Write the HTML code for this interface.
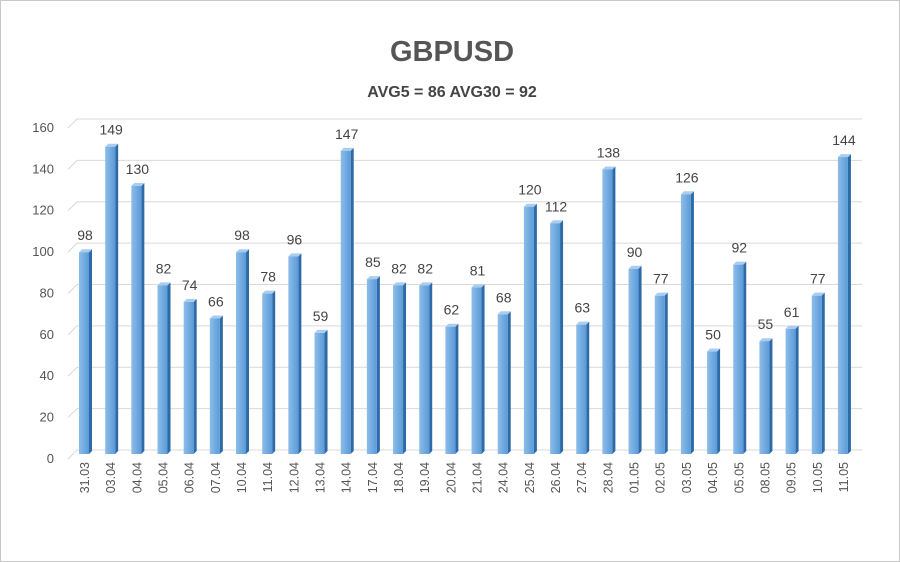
<!DOCTYPE html>
<html><head><style>body{margin:0;background:#fff}svg{display:block}</style></head><body>
<svg width="900" height="562" xmlns="http://www.w3.org/2000/svg" font-family="Liberation Sans, sans-serif">
<defs><linearGradient id="g" x1="0" x2="1"><stop offset="0" stop-color="#8dbde9"/><stop offset="1" stop-color="#5a9ad8"/></linearGradient></defs>
<rect x="0.5" y="0.5" width="899" height="561" fill="#fff" stroke="#c8c8c8"/>
<text x="452" y="61" text-anchor="middle" font-size="29" font-weight="bold" fill="#555">GBPUSD</text>
<text x="452" y="97" text-anchor="middle" font-size="16" font-weight="bold" fill="#444">AVG5 = 86 AVG30 = 92</text>
<g id="c"></g>
</svg>
<script>
const d=[["31.03",98],["03.04",149],["04.04",130],["05.04",82],["06.04",74],["07.04",66],["10.04",98],["11.04",78],["12.04",96],["13.04",59],["14.04",147],["17.04",85],["18.04",82],["19.04",82],["20.04",62],["21.04",81],["24.04",68],["25.04",120],["26.04",112],["27.04",63],["28.04",138],["01.05",90],["02.05",77],["03.05",126],["04.05",50],["05.05",92],["08.05",55],["09.05",61],["10.05",77],["11.05",144]];
let s="";
for(let v=0;v<=160;v+=20){const y=450-v*2.069;
s+=`<polyline points="68,${y+9} 77,${y} 862,${y}" fill="none" stroke="#d9d9d9"/>`;
s+=`<text x="54" y="${y+13}" text-anchor="end" font-size="13" fill="#555">${v}</text>`;}
d.forEach(([l,v],i)=>{const x=79+i*26.17,top=455-v*2.069;
s+=`<polygon points="${x+10},${top} ${x+13},${top-3} ${x+13},${451} ${x+10},${454}" fill="#2d6aa6"/>`;
s+=`<polygon points="${x},${top} ${x+3},${top-3} ${x+13},${top-3} ${x+10},${top}" fill="#a9cdf0"/>`;
s+=`<rect x="${x}" y="${top}" width="10" height="${454-top}" fill="url(#g)"/>`;
s+=`<text x="${x+6}" y="${top-12}" text-anchor="middle" font-size="14" fill="#444">${v}</text>`;
s+=`<text transform="translate(${x+10},462) rotate(-90)" text-anchor="end" font-size="12.5" fill="#555">${l}</text>`;});
document.getElementById("c").innerHTML=s;
</script>
</body></html>
